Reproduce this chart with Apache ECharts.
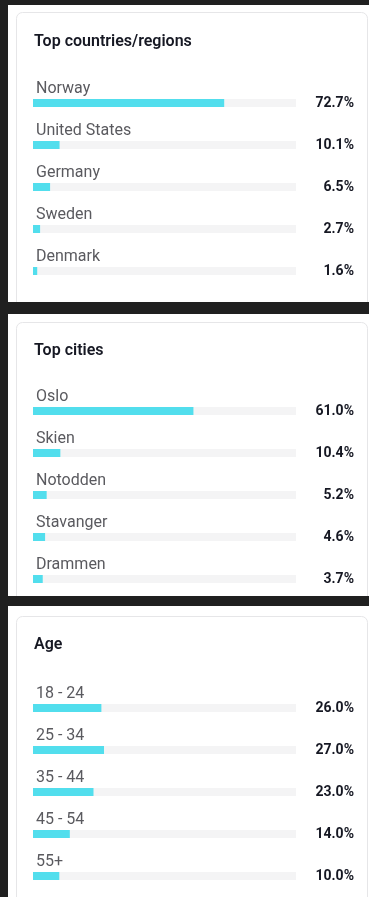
<!DOCTYPE html>
<html>
<head>
<meta charset="utf-8">
<script src="https://cdn.jsdelivr.net/npm/echarts@6/dist/echarts.min.js"></script>
<style>
  html, body { margin: 0; padding: 0; background: #202020; }
  #chart { width: 369px; height: 897px; }
</style>
</head>
<body>
<div id="chart"></div>
<script>
// Audience breakdown: three panels of horizontal percentage bars
const countryNames = ['Norway', 'United States', 'Germany', 'Sweden', 'Denmark'];
const countryShares = [72.7, 10.1, 6.5, 2.7, 1.6];

const cityNames = ['Oslo', 'Skien', 'Notodden', 'Stavanger', 'Drammen'];
const cityShares = [61.0, 10.4, 5.2, 4.6, 3.7];

const ageNames = ['18 - 24', '25 - 34', '35 - 44', '45 - 54', '55+'];
const ageShares = [26.0, 27.0, 23.0, 14.0, 10.0];

const panelTitles = ['Top countries/regions', 'Top cities', 'Age'];

const FONT = 'Roboto, "Noto Sans", sans-serif';
const BAR_COLOR = '#52deed';
const TRACK_COLOR = '#f4f4f5';
const DARK = '#202020';

// panel layout: white sheet, bordered card, title and bar grid
const panels = [
  { sheetTop: 5,   sheetH: 297, cardTop: 12,  titleY: 40,  gridTop: 82,  names: countryNames, values: countryShares },
  { sheetTop: 314, sheetH: 282, cardTop: 322, titleY: 349, gridTop: 390, names: cityNames,    values: cityShares },
  { sheetTop: 606, sheetH: 291, cardTop: 616, titleY: 643, gridTop: 687, names: ageNames,     values: ageShares }
];

const graphics = [];
const grids = [], xAxes = [], yAxes = [], series = [], titles = [];

panels.forEach((p, i) => {
  const sheetBottom = p.sheetTop + p.sheetH;
  graphics.push({
    type: 'rect', silent: true,
    shape: { x: 8, y: p.sheetTop, width: 361, height: p.sheetH },
    style: { fill: '#ffffff' }
  });
  // bordered card, cut off at the bottom of its sheet
  graphics.push({
    type: 'group', silent: true,
    clipPath: { type: 'rect', shape: { x: 0, y: p.sheetTop, width: 369, height: p.sheetH } },
    children: [{
      type: 'rect',
      shape: { x: 16.5, y: p.cardTop + 0.5, width: 351, height: sheetBottom - p.cardTop + 20, r: 6 },
      style: { fill: '#ffffff', stroke: '#e6e6e8', lineWidth: 1 }
    }]
  });

  titles.push({
    text: panelTitles[i],
    left: 34,
    top: p.titleY - 6,
    padding: 0,
    textStyle: { fontFamily: FONT, fontSize: 16, fontWeight: 600, color: '#161823' }
  });

  grids.push({ left: 33, width: 263, top: p.gridTop, height: 210 });
  xAxes.push({
    gridIndex: i, type: 'value', min: 0, max: 100, show: false
  });
  yAxes.push({
    gridIndex: i, type: 'category', data: p.names, inverse: true,
    axisLine: { show: false }, axisTick: { show: false }, splitLine: { show: false },
    axisLabel: { show: false }
  });
  // value labels on the right, derived from the same shares
  yAxes.push({
    gridIndex: i, type: 'category', data: p.names, inverse: true, position: 'right',
    axisLine: { show: false }, axisTick: { show: false }, splitLine: { show: false },
    axisLabel: {
      show: true, align: 'right', margin: 58,
      fontFamily: FONT, fontSize: 14, fontWeight: 'bold', color: '#161823',
      formatter: (v, idx) => p.values[idx].toFixed(1) + '%'
    }
  });
  series.push({
    type: 'bar',
    xAxisIndex: i, yAxisIndex: i * 2,
    data: p.values,
    barWidth: 8,
    showBackground: true,
    backgroundStyle: { color: TRACK_COLOR },
    itemStyle: { color: BAR_COLOR },
    label: {
      show: true,
      position: [3, -18],
      formatter: (d) => p.names[d.dataIndex],
      fontFamily: FONT, fontSize: 16, color: '#5a5a5f'
    },
    silent: true,
    animation: false
  });
});

const chart = echarts.init(document.getElementById('chart'));
chart.setOption({
  backgroundColor: DARK,
  animation: false,
  title: titles,
  graphic: { elements: graphics, z: -10 },
  grid: grids,
  xAxis: xAxes,
  yAxis: yAxes,
  series: series
});
</script>
</body>
</html>
